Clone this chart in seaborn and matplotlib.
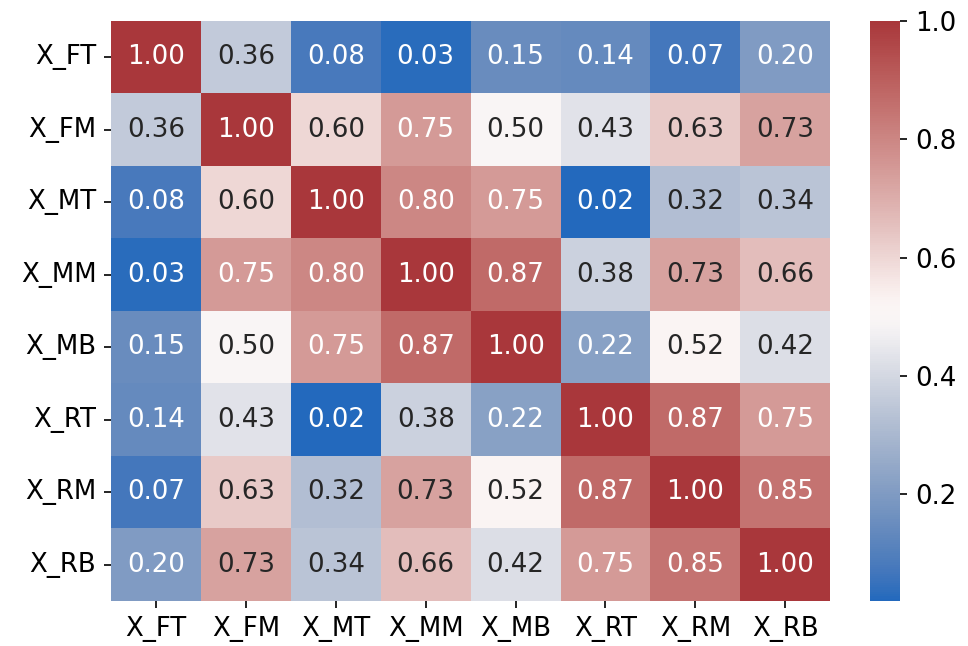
import numpy as np
import pandas as pd
import seaborn as sns
import matplotlib
matplotlib.use("Agg")
import matplotlib.pyplot as plt

labels = ["X_FT", "X_FM", "X_MT", "X_MM", "X_MB", "X_RT", "X_RM", "X_RB"]
row_FT = [1.00, 0.36, 0.08, 0.03, 0.15, 0.14, 0.07, 0.20]
row_FM = [0.36, 1.00, 0.60, 0.75, 0.50, 0.43, 0.63, 0.73]
row_MT = [0.08, 0.60, 1.00, 0.80, 0.75, 0.02, 0.32, 0.34]
row_MM = [0.03, 0.75, 0.80, 1.00, 0.87, 0.38, 0.73, 0.66]
row_MB = [0.15, 0.50, 0.75, 0.87, 1.00, 0.22, 0.52, 0.42]
row_RT = [0.14, 0.43, 0.02, 0.38, 0.22, 1.00, 0.87, 0.75]
row_RM = [0.07, 0.63, 0.32, 0.73, 0.52, 0.87, 1.00, 0.85]
row_RB = [0.20, 0.73, 0.34, 0.66, 0.42, 0.75, 0.85, 1.00]

df = pd.DataFrame([row_FT, row_FM, row_MT, row_MM, row_MB, row_RT, row_RM, row_RB],
                  index=labels, columns=labels)

fs = 12.5
fig = plt.figure(figsize=(968/150, 646/150), dpi=150)
ax = fig.add_axes([0.1147, 0.0697, 0.743, 0.898])
cax = fig.add_axes([0.899, 0.0697, 0.031, 0.898])
sns.heatmap(df, annot=True, fmt=".2f", cmap="vlag", ax=ax, cbar_ax=cax,
            annot_kws={"fontsize": fs})
ax.tick_params(labelsize=fs)
plt.setp(ax.get_yticklabels(), rotation=0)
plt.setp(ax.get_xticklabels(), rotation=0)
cax.tick_params(labelsize=fs)
fig.savefig("out.png", dpi=150)
